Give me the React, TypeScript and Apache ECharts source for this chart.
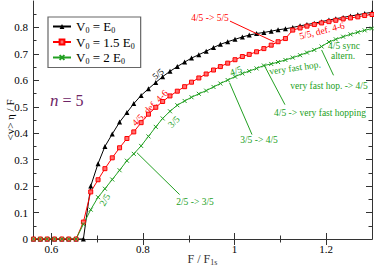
import React, { useEffect, useRef } from "react";
import * as echarts from "echarts";

const FONT = '"Liberation Serif", "DejaVu Serif", serif';

const xValues = [0.561,0.576,0.591,0.607,0.623,0.638,0.654,0.670,0.686,0.702,0.717,0.733,0.749,0.765,0.780,0.796,0.812,0.828,0.843,0.859,0.875,0.891,0.906,0.922,0.938,0.954,0.969,0.985,1.001,1.017,1.032,1.048,1.064,1.080,1.095,1.111,1.127,1.143,1.158,1.174,1.190,1.206,1.221,1.237,1.253,1.269,1.284,1.300];

const blackV = [0,0,0,0,0,0,0,0,0.20,0.285,0.35,0.397,0.442,0.478,0.512,0.543,0.568,0.592,0.614,0.634,0.652,0.669,0.684,0.697,0.710,0.724,0.736,0.746,0.755,0.764,0.771,0.777,0.781,0.786,0.791,0.795,0.800,0.806,0.811,0.816,0.822,0.828,0.833,0.838,0.843,0.848,0.853,0.857];

const redV = [0,0,0,0,0,0,0,0.064,0.178,0.224,0.266,0.307,0.345,0.38,0.405,0.44,0.472,0.498,0.52,0.541,0.559,0.576,0.593,0.609,0.624,0.639,0.652,0.665,0.678,0.69,0.698,0.708,0.72,0.733,0.746,0.758,0.790,0.798,0.805,0.811,0.817,0.822,0.827,0.832,0.836,0.840,0.845,0.849];

const greenV = [0,0,0,0,0,0,0,0.056,0.111,0.158,0.19,0.225,0.26,0.296,0.322,0.352,0.388,0.424,0.456,0.483,0.506,0.522,0.536,0.549,0.561,0.575,0.588,0.601,0.614,0.626,0.635,0.645,0.656,0.662,0.669,0.677,0.686,0.695,0.705,0.715,0.728,0.745,0.755,0.765,0.774,0.782,0.789,0.796];

const seriesNames = ["V0 = E0", "V0 = 1.5 E0", "V0 = 2 E0"];
const legendRich = ["{m|V}{s|0}{m| = E}{s|0}", "{m|V}{s|0}{m| = 1.5 E}{s|0}", "{m|V}{s|0}{m| = 2 E}{s|0}"];

const xMajorTicks = [0.6, 0.8, 1.0, 1.2];
const xMinorTicks = [0.7, 0.9, 1.1];
const yMajorTicks = [0, 0.1, 0.2, 0.3, 0.4, 0.5, 0.6, 0.7, 0.8];
const yMinorTicks = [0.05, 0.15, 0.25, 0.35, 0.45, 0.55, 0.65, 0.75, 0.85];

const X_MIN = 0.56, X_MAX = 1.3, Y_MIN = 0, Y_MAX = 0.9;

// arrows in data coordinates: [from, to]
const redArrows = [[[0.99, 0.824], [1.087, 0.745]]];
const greenArrows = [
  [[0.880, 0.168], [0.787, 0.326]],
  [[1.038, 0.395], [0.989, 0.591]],
  [[1.110, 0.508], [1.065, 0.656]],
  [[1.216, 0.619], [1.190, 0.715]],
];

const BLACK = "#000000";
const RED = "#ff0000";
const GREEN = "#22a022";
const AXIS = "#333333";

export default function App() {
  const ref = useRef<HTMLDivElement>(null);
  useEffect(() => {
    if (!ref.current) return;
    const chart = echarts.init(ref.current, undefined, { renderer: "svg" });
    const pts = (ys: number[]) => xValues.map((x, i) => [x, ys[i]]);
    const arrowData = (arr: number[][][]) => arr.map(([a, b]) => [{ coord: a }, { coord: b }]);
    const mk = (color: string, arr: number[][][]) => ({
      silent: true,
      symbol: ["none", "arrow"],
      symbolSize: [0, 6],
      label: { show: false },
      lineStyle: { color, width: 1, type: "solid" },
      data: arrowData(arr),
    });
    const tickAxisX = (pos: string, ticks: number[], len: number, showLine: boolean) => ({
      type: "value", position: pos, min: X_MIN, max: X_MAX,
      axisLine: { show: showLine, lineStyle: { color: AXIS, width: 1 } },
      axisTick: { show: true, inside: true, length: len, customValues: ticks, lineStyle: { color: AXIS } },
      axisLabel: { show: false }, splitLine: { show: false },
    });
    const tickAxisY = (pos: string, ticks: number[], len: number, showLine: boolean) => ({
      type: "value", position: pos, min: Y_MIN, max: Y_MAX,
      axisLine: { show: showLine, lineStyle: { color: AXIS, width: 1 } },
      axisTick: { show: true, inside: true, length: len, customValues: ticks, lineStyle: { color: AXIS } },
      axisLabel: { show: false }, splitLine: { show: false },
    });
    const txt = (text: string, x: number, y: number, color: string, rotDeg = 0, size = 9.5) => ({
      type: "text", x, y, rotation: (rotDeg * Math.PI) / 180, silent: true,
      style: { text, fill: color, fontFamily: FONT, fontSize: size, align: "center", verticalAlign: "middle" },
    });
    chart.setOption({
      animation: false,
      backgroundColor: "#ffffff",
      grid: { left: 33, right: 2, top: 1, bottom: 29, containLabel: false, outerBoundsMode: "none" },
      xAxis: [
        {
          type: "value", position: "bottom", min: X_MIN, max: X_MAX,
          name: "{m|F / F}{s|1s}", nameLocation: "middle", nameGap: 13, nameMoveOverlap: false,
          nameTextStyle: { fontFamily: FONT, rich: { m: { fontFamily: FONT, fontSize: 12, lineHeight: 14, verticalAlign: "middle" }, s: { fontFamily: FONT, fontSize: 8, lineHeight: 6, verticalAlign: "bottom" } } },
          axisLine: { show: true, lineStyle: { color: AXIS, width: 1 } },
          axisTick: { show: true, inside: true, length: 6, customValues: xMajorTicks, lineStyle: { color: AXIS } },
          axisLabel: { show: true, customValues: xMajorTicks, margin: 4, fontFamily: FONT, fontSize: 11, color: "#000", formatter: (v: number) => String(Math.round(v * 10) / 10) },
          splitLine: { show: false },
        },
        tickAxisX("bottom", xMinorTicks, 3.5, false),
        tickAxisX("top", xMajorTicks, 6, true),
        tickAxisX("top", xMinorTicks, 3.5, false),
      ],
      yAxis: [
        {
          type: "value", position: "left", min: Y_MIN, max: Y_MAX,
          name: "<v> η / F", nameLocation: "middle", nameGap: 18, nameRotate: 90, nameMoveOverlap: false,
          nameTextStyle: { fontFamily: FONT, fontSize: 11, color: "#000" },
          axisLine: { show: true, lineStyle: { color: AXIS, width: 1 } },
          axisTick: { show: true, inside: true, length: 6, customValues: yMajorTicks, lineStyle: { color: AXIS } },
          axisLabel: { show: true, customValues: yMajorTicks, margin: 5, fontFamily: FONT, fontSize: 11, color: "#000", formatter: (v: number) => (v === 0 ? "0" : v.toFixed(1)) },
          splitLine: { show: false },
        },
        tickAxisY("left", yMinorTicks, 3.5, false),
        tickAxisY("right", yMajorTicks, 6, true),
        tickAxisY("right", yMinorTicks, 3.5, false),
      ],
      legend: {
        left: 48, top: 17, orient: "vertical",
        itemWidth: 18, itemHeight: 6, itemGap: 1,
        padding: [3, 6, 2, 4],
        borderColor: "#666", borderWidth: 1.2,
        data: seriesNames,
        formatter: (name: string) => legendRich[seriesNames.indexOf(name)],
        textStyle: {
          fontFamily: FONT, color: "#000",
          rich: {
            m: { fontFamily: FONT, fontSize: 13, lineHeight: 16, verticalAlign: "middle", color: "#000" },
            s: { fontFamily: FONT, fontSize: 8, lineHeight: 7, verticalAlign: "bottom", color: "#000" },
          },
        },
      },
      series: [
        {
          name: seriesNames[0], type: "line", data: pts(blackV),
          symbol: "triangle", symbolSize: 5,
          lineStyle: { color: BLACK, width: 1 }, itemStyle: { color: BLACK },
        },
        {
          name: seriesNames[1], type: "line", data: pts(redV),
          symbol: "rect", symbolSize: 4,
          lineStyle: { color: RED, width: 1 }, itemStyle: { color: "#ff7070", borderColor: RED, borderWidth: 1 },
          markLine: mk(RED, redArrows),
        },
        {
          name: seriesNames[2], type: "line", data: pts(greenV),
          symbol: "path://M0,0L10,10M10,0L0,10", symbolSize: 4,
          lineStyle: { color: GREEN, width: 1 }, itemStyle: { color: GREEN, borderColor: GREEN, borderWidth: 1 },
          markLine: mk(GREEN, greenArrows),
        },
      ],
      graphic: [
        {
          type: "text", x: 50, y: 100, silent: true,
          style: {
            text: "{i|n} = 5", fill: "#6e2466", fontFamily: FONT, fontSize: 16, verticalAlign: "middle",
            rich: { i: { fontFamily: FONT, fontStyle: "italic", fontSize: 17, fill: "#6e2466" } },
          },
        },
        txt("5/5", 158, 74, BLACK, 40, 9),
        txt("4/5, def. 4-6", 150, 108, RED, 45, 9.5),
        txt("3/5", 174, 122, GREEN, 45, 9.5),
        txt("2/5", 105, 200, GREEN, 60, 9.5),
        txt("2/5 -> 3/5", 195, 202, GREEN),
        txt("3/5 -> 4/5", 259, 140, GREEN),
        txt("4/5", 236, 71, GREEN, 20),
        txt("very fast hop.", 295, 68, GREEN, 8),
        txt("4/5 sync", 344, 46, GREEN),
        txt("altern.", 343, 56, GREEN),
        txt("very fast hop. -> 4/5", 329, 86, GREEN),
        txt("4/5 -> very fast hopping", 320, 113, GREEN),
        txt("4/5 -> 5/5", 210, 18, RED),
        txt("5/5, def. 4-6", 322, 31, RED, 14),
      ],
    });
    return () => chart.dispose();
  }, []);
  return <div ref={ref} style={{ position: "fixed", left: 0, top: 0, width: 374, height: 268, background: "#fff" }} />;
}
